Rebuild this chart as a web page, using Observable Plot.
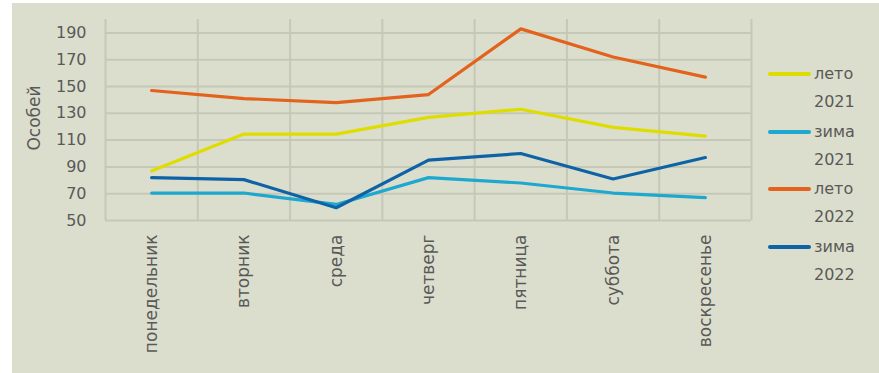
<!DOCTYPE html>
<html>
<head>
<meta charset="utf-8">
<script src="https://cdn.jsdelivr.net/npm/d3@7"></script>
<script src="https://cdn.jsdelivr.net/npm/@observablehq/plot@0.6"></script>
<style>
  html, body { margin: 0; padding: 0; background: #ffffff; width: 879px; height: 373px; overflow: hidden; }
  #frame { position: absolute; left: 12px; top: 3px; width: 867px; height: 370px; background: #dcdecd; }
  #chart { position: absolute; left: 0; top: 0; }
  .leg { position: absolute; font-family: "DejaVu Sans", sans-serif; font-size: 16px; color: #595959; line-height: 28px; }
  .leg .sw { position: absolute; left: 0; top: 12px; width: 43px; height: 4px; border-radius: 2px; }
  .leg .tx { position: absolute; left: 46px; top: 0; white-space: nowrap; }
</style>
</head>
<body>
<div id="frame">
  <div id="chart"></div>
</div>
<script>
// ---- data ----
const days = ["понедельник", "вторник", "среда", "четверг", "пятница", "суббота", "воскресенье"];
const seriesNames = ["лето 2021", "зима 2021", "лето 2022", "зима 2022"];
const seriesColors = ["#dfdc00", "#1ea8d0", "#e3621c", "#0e63a6"];
const leto2021 = [87, 114.5, 114.5, 127, 133, 119.5, 113];
const zima2021 = [70.5, 70.5, 62, 82, 78, 70.5, 67];
const leto2022 = [147, 141, 138, 144, 193, 172, 157];
const zima2022 = [82, 80.5, 59.5, 95, 100, 81, 97];
const yTicks = [50, 70, 90, 110, 130, 150, 170, 190];
const yDomain = [50, 200];
const yTitle = "Особей";

const seriesValues = [leto2021, zima2021, leto2022, zima2022];
const rows = [];
seriesNames.forEach((s, k) => seriesValues[k].forEach((v, i) => rows.push({series: s, i, value: v})));
const dayIdx = days.map((d, i) => i);
const boundaries = days.map((d, i) => i - 0.5).concat([days.length - 0.5]);

const textColor = "#595959";
const gridColor = "#c5c8b6";

const chart = Plot.plot({
  width: 867,
  height: 370,
  marginLeft: 93,
  marginRight: 128,
  marginTop: 16,
  marginBottom: 153,
  style: { background: "transparent", fontFamily: "DejaVu Sans, sans-serif", color: textColor, overflow: "visible" },
  x: { type: "linear", domain: [-0.5, days.length - 0.5], axis: null },
  y: { domain: yDomain, axis: null },
  color: { domain: seriesNames, range: seriesColors },
  marks: [
    Plot.ruleY(yTicks, { stroke: gridColor, strokeWidth: 2 }),
    Plot.ruleX(boundaries, { y1: yDomain[0], y2: yDomain[1], stroke: gridColor, strokeWidth: 2 }),
    Plot.axisY(yTicks, { tickSize: 0, tickPadding: 19, fontSize: 16, fill: textColor, label: null }),
    Plot.text([yTitle], { frameAnchor: "left", textAnchor: "middle", dx: -71, dy: -2, rotate: -90, fontSize: 17, fill: textColor }),
    Plot.axisX(dayIdx, { tickSize: 0, tickPadding: 14, tickRotate: -90, tickFormat: i => days[i], fontSize: 17, fill: textColor, label: null }),
    Plot.line(rows, { x: "i", y: "value", z: "series", stroke: "series", strokeWidth: 3.2, strokeLinejoin: "round", strokeLinecap: "round" })
  ]
});
document.getElementById("chart").appendChild(chart);

// legend
const frame = document.getElementById("frame");
const legendTops = [60, 118, 175, 233];
seriesNames.forEach((s, k) => {
  const el = document.createElement("div");
  el.className = "leg";
  el.style.left = (768 - 12) + "px";
  el.style.top = (legendTops[k] - 3) + "px";
  const parts = s.split(" ");
  el.innerHTML = `<span class="sw" style="background:${seriesColors[k]}"></span><span class="tx">${parts[0]}<br>${parts[1]}</span>`;
  frame.appendChild(el);
});
</script>
</body>
</html>
